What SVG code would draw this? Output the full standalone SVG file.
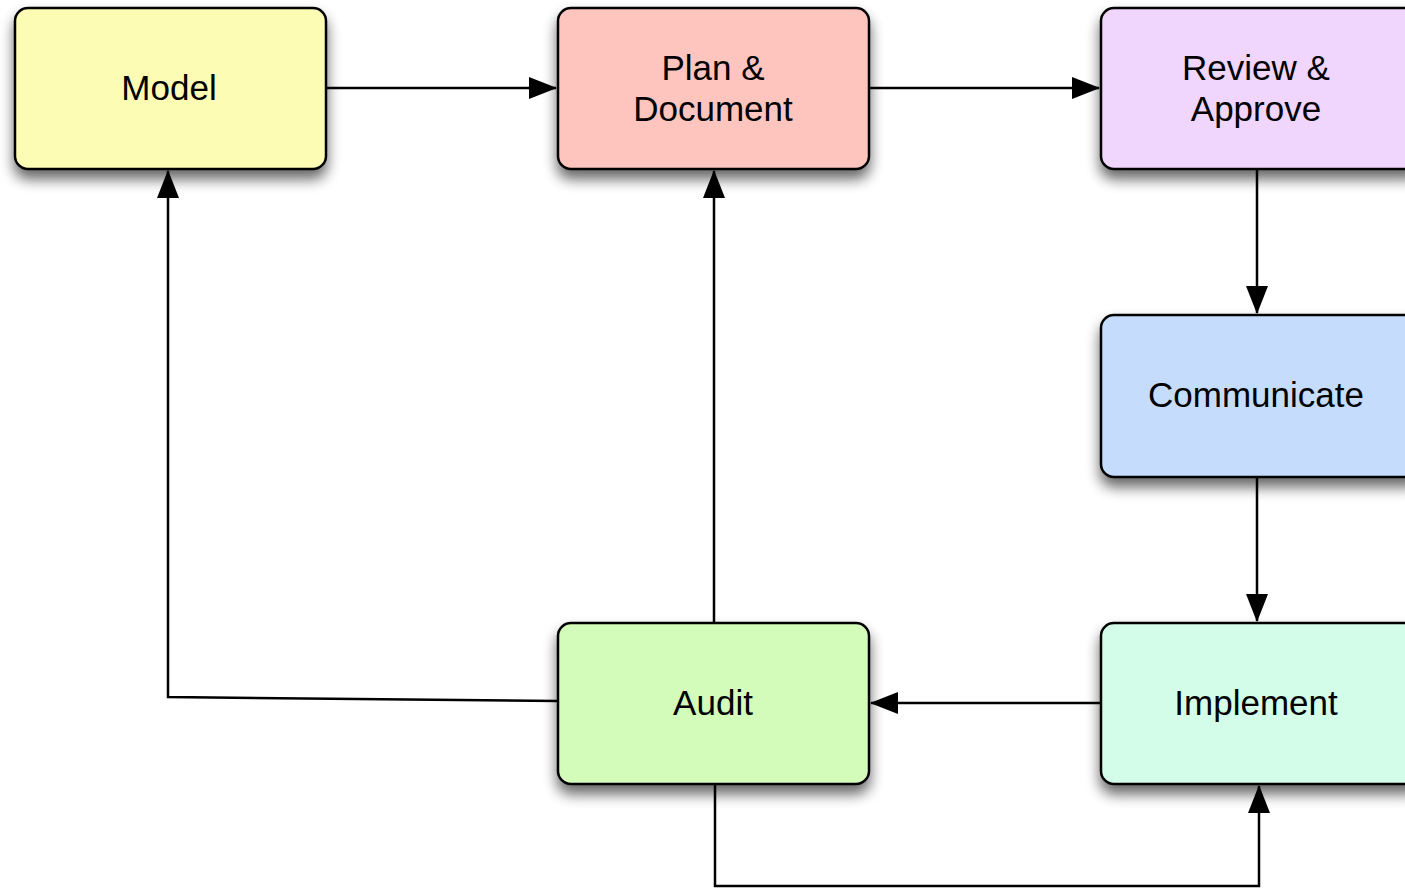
<svg xmlns="http://www.w3.org/2000/svg" width="1405" height="889" viewBox="0 0 1405 889">
<defs>
<filter id="sh" x="-10%" y="-10%" width="130%" height="150%">
<feGaussianBlur in="SourceAlpha" stdDeviation="7"/>
<feOffset dx="0" dy="9" result="b"/>
<feComponentTransfer><feFuncA type="linear" slope="0.6"/></feComponentTransfer>
<feMerge><feMergeNode/><feMergeNode in="SourceGraphic"/></feMerge>
</filter>
<marker id="ah" markerWidth="28" markerHeight="22" refX="27" refY="11" orient="auto" markerUnits="userSpaceOnUse">
<path d="M0,0 L28,11 L0,22 Z" fill="#000"/>
</marker>
</defs>
<style>
.box{stroke:#000;stroke-width:2.5;filter:url(#sh)}
.lbl{font-family:"Liberation Sans",Arial,sans-serif;font-size:35px;fill:#000;text-anchor:middle}
.c{fill:none;stroke:#000;stroke-width:2.5;marker-end:url(#ah)}
</style>
<rect width="1405" height="889" fill="#fff"/>
<g id="connectors">
<path class="c" d="M326,88 H556"/>
<path class="c" d="M869,88 H1099"/>
<path class="c" d="M1257,169 V313"/>
<path class="c" d="M1257,477 V621"/>
<path class="c" d="M1101,703 H871"/>
<path class="c" d="M714,623 V171"/>
<path class="c" d="M558,701 L168,697 V171"/>
<path class="c" d="M715,784 V886 H1259 V786"/>
</g>
<g id="model">
<rect class="box" x="15" y="8" width="311" height="161" rx="13" fill="#fdfcb5"/>
<text class="lbl" x="169" y="100">Model</text>
</g>
<g id="plan">
<rect class="box" x="558" y="8" width="311" height="161" rx="13" fill="#fec5be"/>
<text class="lbl" x="713" y="80">Plan &amp;</text>
<text class="lbl" x="713" y="121">Document</text>
</g>
<g id="review">
<rect class="box" x="1101" y="8" width="320" height="161" rx="13" fill="#f0d5fd"/>
<text class="lbl" x="1256" y="80">Review &amp;</text>
<text class="lbl" x="1256" y="121">Approve</text>
</g>
<g id="communicate">
<rect class="box" x="1101" y="315" width="320" height="162" rx="13" fill="#c5dcfd"/>
<text class="lbl" x="1256" y="407">Communicate</text>
</g>
<g id="implement">
<rect class="box" x="1101" y="623" width="320" height="161" rx="13" fill="#d3fde8"/>
<text class="lbl" x="1256" y="715">Implement</text>
</g>
<g id="audit">
<rect class="box" x="558" y="623" width="311" height="161" rx="13" fill="#d3fbba"/>
<text class="lbl" x="713" y="715">Audit</text>
</g>
</svg>
